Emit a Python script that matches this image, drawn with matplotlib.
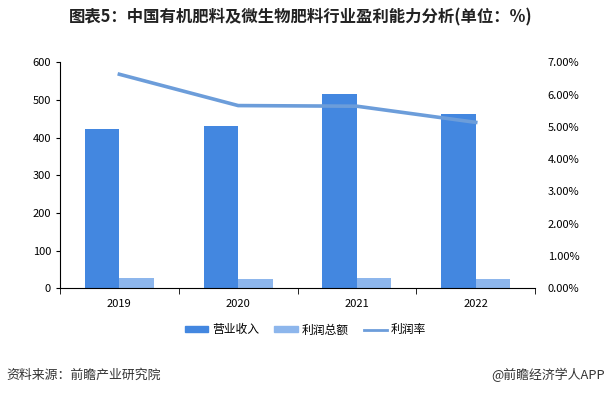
import numpy as np
import matplotlib
matplotlib.use("Agg")
import matplotlib.pyplot as plt
from matplotlib.patches import Patch
from matplotlib.lines import Line2D
from matplotlib.ticker import FixedLocator, PercentFormatter

plt.rcParams['font.family'] = ['Noto Sans CJK SC', 'DejaVu Sans']

years = ['2019', '2020', '2021', '2022']
revenue = [423, 431, 516, 463]        # 营业收入
profit = [27, 25, 27, 25]             # 利润总额
margin = [6.63, 5.66, 5.64, 5.14]     # 利润率 (%)

c_rev = '#4387E0'
c_pro = '#8DB6EC'
c_line = '#6C9DDA'

fig = plt.figure(figsize=(6.06, 3.97), dpi=100)
ax = fig.add_axes([0.099, 0.274, 0.784, 0.569])
x = np.arange(len(years))
w = 0.29
ax.bar(x - w / 2, revenue, w, color=c_rev)
ax.bar(x + w / 2, profit, w, color=c_pro)
ax.set_xlim(-0.5, 3.5)
ax.set_ylim(0, 600)
ax.set_yticks(range(0, 601, 100))
ax.set_xticks(x)
ax.set_xticklabels(years, fontsize=8)
ax.xaxis.set_minor_locator(FixedLocator(np.arange(-0.5, 3.6, 1)))
ax.tick_params(axis='x', which='major', length=0, pad=8)
ax.tick_params(axis='x', which='minor', length=4, color='black')
ax.tick_params(axis='y', labelsize=8, length=3)
for s in ['top', 'right']:
    ax.spines[s].set_visible(False)

ax2 = ax.twinx()
ax2.plot(x, margin, color=c_line, lw=2.6)
ax2.set_ylim(0, 7)
ax2.set_yticks(range(0, 8))
ax2.yaxis.set_major_formatter(PercentFormatter(decimals=2))
ax2.tick_params(axis='y', labelsize=8, length=0, pad=9)
for s in ['top', 'right', 'left', 'bottom']:
    ax2.spines[s].set_visible(False)

handles = [Patch(color=c_rev), Patch(color=c_pro), Line2D([], [], color=c_line, lw=2)]
fig.legend(handles, ['营业收入', '利润总额', '利润率'], loc='center', bbox_to_anchor=(0.504, 0.169),
           ncol=3, frameon=False, fontsize=8.5, handlelength=2.0, handleheight=0.45,
           handletextpad=0.3, columnspacing=1.3)

fig.text(0.497, 0.955, '图表5：中国有机肥料及微生物肥料行业盈利能力分析(单位：%)', ha='center', va='center',
         fontsize=11.8, fontweight='bold', color='#222222')
fig.text(0.011, 0.055, '资料来源：前瞻产业研究院', ha='left', va='center', fontsize=9.3, color='#333333')
fig.text(0.998, 0.055, '@前瞻经济学人APP', ha='right', va='center', fontsize=9.3, color='#333333')

fig.savefig('out.png', dpi=100)
